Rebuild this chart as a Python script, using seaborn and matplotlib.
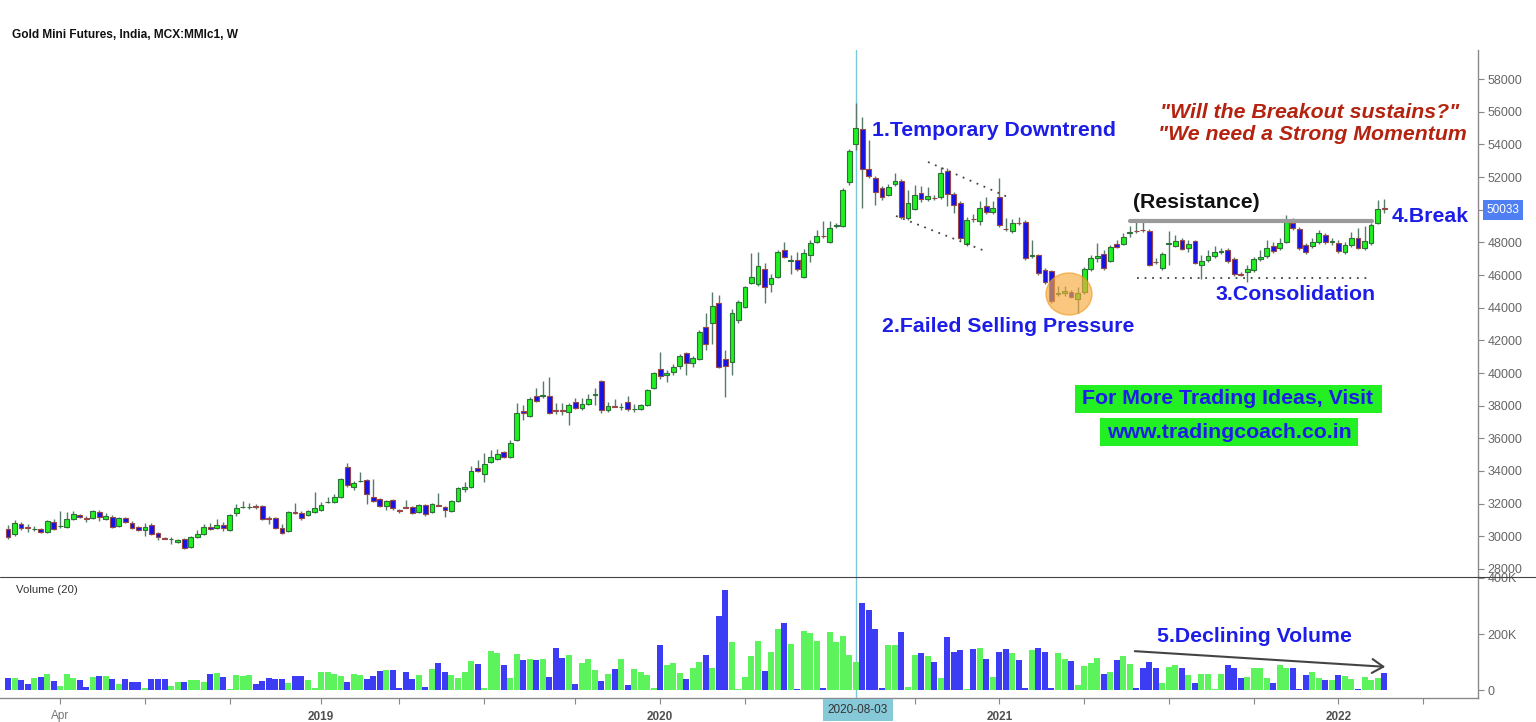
import numpy as np
import pandas as pd
import matplotlib
matplotlib.use("Agg")
import matplotlib.pyplot as plt
import matplotlib.transforms as mtransforms
from matplotlib.patches import Ellipse, Rectangle, FancyArrowPatch
from matplotlib.lines import Line2D
import seaborn as sns

# ---------------- data (weekly OHLC, MCX Gold Mini) ----------------
start_date = "2018-02-05"

opens = [30430, 30120, 30740, 30550, 30430, 30430, 30240, 30860, 30610, 30550,
         31040, 31290, 31100, 31100, 31470, 31040, 31160, 30610, 31100, 30800,
         30550, 30370, 30670, 30180, 29880, 29820, 29630, 29820, 29330, 29940,
         30120, 30550, 30490, 30670, 30370, 31410, 31780, 31780, 31840, 31840,
         31100, 31100, 30490, 30310, 31470, 31410, 31290, 31470, 31590, 32080,
         32080, 32390, 34230, 33000, 33370, 33430, 32390, 32270, 31840, 32200,
         31590, 31780, 31780, 31470, 31900, 31470, 31900, 31780, 31530, 32140,
         32880, 33000, 34170, 33800, 34530, 34720, 35150, 34840, 35880, 37660,
         37350, 38580, 38580, 38580, 37720, 37720, 37600, 38210, 37840, 38090,
         38640, 39500, 37720, 37960, 37900, 38210, 37780, 37780, 38030, 39070,
         40230, 39860, 40050, 40410, 41210, 40600, 40840, 42800, 43050, 44280,
         40840, 40660, 43230, 44030, 45500, 45440, 46360, 45440, 45870, 47520,
         46850, 46910, 45870, 47220, 48010, 48380, 48010, 48990, 48990, 51690,
         54020, 54940, 52490, 51930, 51320, 50890, 51570, 51750, 49480, 50030,
         51020, 50650, 50710, 50770, 52360, 50950, 50400, 47890, 49420, 49300,
         50220, 49850, 50770, 48810, 48690, 49180, 49240, 47150, 47220, 46300,
         46240, 44830, 44890, 44950, 44520, 44950, 46360, 47030, 47280, 46850,
         47890, 47890, 48560, 48690, 48750, 48690, 46790, 46420, 47890, 47770,
         48130, 47640, 48070, 46600, 46910, 47150, 47400, 47520, 46970, 46050,
         46170, 46300, 46970, 47150, 47770, 47640, 48010, 49180, 48810, 47830,
         47770, 48010, 48440, 48010, 47950, 47400, 47830, 48260, 47640, 47950,
         49180, 50060]

highs = [30670, 30980, 30860, 30740, 30610, 30490, 30980, 31040, 31530, 31470,
         31530, 31350, 31230, 31590, 31590, 31410, 31290, 31160, 31160, 30920,
         30610, 30800, 30800, 30240, 29940, 29940, 29820, 29880, 30000, 30370,
         30740, 30800, 31040, 30860, 31350, 31960, 32140, 32020, 31960, 31900,
         31230, 31160, 30740, 31530, 32020, 31530, 31590, 32700, 32080, 32390,
         32570, 33550, 34470, 33370, 33920, 33490, 33490, 32330, 32200, 32270,
         31650, 32200, 31840, 31960, 31960, 32020, 32630, 31840, 32200, 33000,
         33310, 34290, 34660, 35080, 35270, 35330, 35210, 35880, 38150, 38030,
         38520, 39070, 39500, 39740, 38150, 38150, 38150, 38450, 38450, 38700,
         39070, 39560, 38210, 38390, 38150, 38580, 38090, 38090, 39010, 40050,
         41270, 40170, 40540, 41150, 41270, 41030, 42620, 43660, 44950, 44770,
         41400, 43910, 44460, 45320, 47340, 47400, 46730, 46050, 47520, 48010,
         47220, 47400, 47580, 48140, 48750, 49300, 49300, 49180, 51320, 53710,
         56530, 55670, 54260, 52060, 51440, 51570, 52240, 51870, 51200, 51510,
         51440, 51380, 50890, 52610, 52550, 51080, 50530, 49540, 49730, 50530,
         50770, 50530, 51930, 49480, 49420, 49540, 49360, 48140, 47280, 46420,
         46300, 45320, 45320, 45070, 45260, 46480, 47220, 47950, 47520, 47830,
         48140, 48560, 48990, 49240, 49360, 48810, 47030, 47400, 48690, 48440,
         48260, 48130, 48130, 47220, 47520, 47770, 47640, 47640, 47090, 46170,
         46600, 47090, 47520, 48130, 48010, 48260, 49670, 49480, 48930, 47950,
         48260, 48750, 48560, 48260, 48130, 48010, 48620, 48870, 48990, 49180,
         50590, 50650]

lows = [29820, 30000, 30370, 30240, 30310, 30180, 30180, 30370, 30490, 30490,
        30980, 31100, 30860, 31040, 30920, 30980, 30490, 30550, 30800, 30430,
        30310, 30000, 30060, 29750, 29820, 29510, 29570, 29200, 29300, 29880,
        30060, 30370, 30430, 30310, 30310, 31230, 31720, 31650, 31650, 30980,
        30740, 30430, 30120, 30240, 31350, 30980, 31230, 31410, 31530, 32020,
        32020, 32330, 33000, 32820, 33310, 31960, 32080, 31780, 31590, 31590,
        31410, 31720, 31350, 31410, 31230, 31410, 31840, 31160, 31470, 32080,
        32700, 32940, 33920, 33310, 34470, 34660, 34780, 34780, 35820, 37110,
        37290, 38210, 38450, 37470, 37470, 37410, 36800, 37780, 37720, 38030,
        38030, 37540, 37600, 37900, 37720, 37660, 37600, 37720, 37960, 39010,
        39620, 39430, 39860, 40230, 39860, 40350, 40780, 41400, 41760, 40290,
        38520, 39860, 43050, 43970, 45440, 45320, 44280, 44950, 45810, 47030,
        46050, 46240, 45810, 46790, 47950, 48260, 47950, 48870, 48930, 51510,
        53650, 50100, 51930, 50280, 50590, 50830, 51440, 49420, 49360, 49970,
        50460, 50530, 50590, 50650, 50220, 49790, 48140, 47770, 49240, 49050,
        49730, 49730, 48930, 48690, 48560, 49050, 46910, 47030, 45990, 45440,
        44280, 44700, 44700, 44580, 43660, 44830, 46240, 46790, 46300, 46790,
        47640, 47830, 48320, 48560, 48620, 46540, 46660, 46300, 46600, 47710,
        47520, 47400, 46660, 45750, 46790, 47030, 47280, 46730, 45930, 45930,
        45560, 46170, 46850, 47030, 47340, 47520, 47950, 48750, 47520, 47280,
        47640, 47890, 47890, 47830, 47340, 47280, 47710, 47580, 47520, 47830,
        49120, 49790]

closes = [29940, 30800, 30490, 30520, 30440, 30240, 30920, 30430, 30640, 31040,
          31350, 31160, 31080, 31530, 31160, 31230, 30550, 31100, 30860, 30490,
          30370, 30550, 30120, 29940, 29860, 29840, 29750, 29260, 29940, 30120,
          30550, 30430, 30670, 30490, 31290, 31720, 31800, 31810, 31810, 31040,
          31070, 30490, 30180, 31470, 31440, 31100, 31530, 31720, 31900, 32110,
          32390, 33490, 33120, 33250, 33400, 32570, 32140, 31840, 32140, 31720,
          31570, 31760, 31410, 31900, 31350, 31960, 31880, 31590, 32140, 32940,
          33000, 33980, 33980, 34410, 34840, 35020, 34840, 35700, 37540, 37540,
          38390, 38270, 38600, 37540, 37700, 37700, 38030, 37840, 38090, 38390,
          38660, 37720, 37960, 37940, 37920, 37780, 37800, 38030, 38940, 39990,
          39800, 39990, 40350, 41030, 40600, 40900, 42500, 41760, 44090, 40350,
          40410, 43660, 44340, 45260, 45870, 46540, 45260, 45810, 47400, 47090,
          46870, 46360, 47340, 47950, 48380, 48360, 48870, 49010, 51200, 53590,
          55000, 52490, 52060, 51080, 50770, 51380, 51750, 49540, 50400, 50890,
          50650, 50830, 50690, 52240, 50950, 50280, 48260, 49360, 49400, 50100,
          49850, 50100, 49050, 48790, 49180, 49160, 47030, 47170, 46110, 45560,
          44400, 44850, 45010, 44640, 44890, 46360, 47030, 47150, 46420, 47710,
          47710, 48320, 48580, 48670, 48730, 46600, 46770, 47280, 47910, 48070,
          47580, 47890, 46730, 46850, 47150, 47400, 47420, 46850, 46050, 46030,
          46360, 46970, 47090, 47640, 47460, 47950, 49240, 48870, 47640, 47400,
          48010, 48560, 48010, 48030, 47460, 47830, 48260, 47640, 48070, 49050,
          50030, 50033]

volumes_k = [42, 42, 35, 23, 42, 47, 58, 32, 16, 58, 42, 35, 12, 47, 50, 50, 39, 23, 39, 30,
             30, 8, 39, 39, 39, 16, 30, 30, 35, 35, 28, 58, 62, 47, 4, 54, 49, 54, 23, 32,
             42, 39, 39, 27, 50, 50, 35, 9, 66, 66, 58, 50, 30, 58, 54, 39, 50, 69, 73, 73,
             7, 66, 39, 54, 12, 77, 96, 66, 54, 42, 66, 103, 92, 7, 138, 133, 89, 42, 130, 108,
             111, 108, 111, 47, 150, 115, 126, 23, 96, 111, 73, 32, 58, 77, 111, 20, 77, 66, 54, 7,
             161, 89, 96, 62, 39, 78, 99, 124, 78, 263, 357, 173, 4, 47, 120, 177, 70, 136, 219, 240,
             166, 4, 212, 204, 177, 7, 208, 173, 192, 127, 100, 312, 284, 219, 7, 162, 162, 208, 12, 127,
             131, 120, 100, 42, 189, 136, 143, 4, 146, 151, 112, 47, 136, 146, 131, 109, 7, 143, 151, 136,
             7, 131, 112, 105, 17, 85, 97, 116, 59, 63, 109, 120, 93, 7, 78, 100, 78, 24, 81, 89,
             78, 54, 27, 59, 59, 4, 59, 89, 78, 42, 47, 78, 78, 42, 24, 89, 78, 78, 4, 54,
             63, 42, 35, 35, 54, 51, 39, 4, 47, 36, 45, 62]

price_ticks = list(range(28000, 58001, 2000))
hidden_price_label = 50000          # covered by the last-price tag
volume_ticks = [0, 200000, 400000]
volume_tick_labels = ["0", "200K", "400K"]
last_price_label = "50033"

time_tick_dates = ["2018-04-02", "2019-01-07", "2020-01-06", "2021-01-04", "2022-01-03"]
time_tick_labels = ["Apr", "2019", "2020", "2021", "2022"]
highlight_date = "2020-08-03"
quarter_dates = ["2018-07-02", "2018-10-01", "2019-04-01", "2019-07-01", "2019-10-07",
                 "2020-04-06", "2020-10-05", "2021-04-05", "2021-07-05", "2021-10-04",
                 "2022-04-04"]

# ---------------- frame ----------------
n = len(closes)
dates = pd.date_range(start_date, periods=n, freq="7D")
df = pd.DataFrame({"date": dates, "open": opens, "high": highs, "low": lows,
                   "close": closes, "volume": np.array(volumes_k) * 1000})
df["i"] = np.arange(n)
df["dir"] = np.where(df["close"] >= df["open"], "up", "down")


def idx_of(d):
    d = pd.Timestamp(d)
    return float((d - dates[0]).days) / 7.0


sns.set_theme(style="white")
plt.rcParams["font.family"] = ["Liberation Sans", "DejaVu Sans"]

W, H = 1536, 722
fig = plt.figure(figsize=(W / 100, H / 100), dpi=100)
fig.patch.set_facecolor("white")
pix = mtransforms.Affine2D().scale(1.0 / W, -1.0 / H).translate(0, 1) + fig.transFigure


def fbox(x0, y0, x1, y1):
    return [x0 / W, 1 - y1 / H, (x1 - x0) / W, (y1 - y0) / H]


axp = fig.add_axes(fbox(0, 50, 1478, 576))
axv = fig.add_axes(fbox(0, 576, 1478, 698))

XLIM = (-1.23, 225.4)

# ---------------- candles ----------------
UP_BODY, DOWN_BODY = "#1ff01f", "#1414e6"
UP_EDGE, DOWN_EDGE = "#2f6f3a", "#9a4646"
WICK = "#587a68"

hl_i = idx_of(highlight_date)
axp.axvline(hl_i, color="#79c9dc", lw=1.0, zorder=0.5)
axv.axvline(hl_i, color="#79c9dc", lw=1.0, zorder=0.5)

axp.vlines(df["i"], df["low"], df["high"], color=WICK, lw=1.0, zorder=1)
body_bottom = np.minimum(df["open"], df["close"])
body_h = np.maximum(np.abs(df["close"] - df["open"]), 45)
up = df["dir"] == "up"
axp.bar(df["i"][up], body_h[up], bottom=body_bottom[up], width=0.74,
        color=UP_BODY, edgecolor=UP_EDGE, linewidth=0.8, zorder=2)
axp.bar(df["i"][~up], body_h[~up], bottom=body_bottom[~up], width=0.74,
        color=DOWN_BODY, edgecolor=DOWN_EDGE, linewidth=0.8, zorder=2)

axp.set_xlim(*XLIM)
axp.set_ylim(27571, 59777)
axp.yaxis.tick_right()
axp.set_yticks(price_ticks)
axp.set_yticklabels(["" if t == hidden_price_label else str(t) for t in price_ticks])
axp.tick_params(axis="y", direction="out", length=4, width=0.8, color="#888888",
                labelsize=9, labelcolor="#666666", pad=3, right=True, left=False)
axp.set_xticks([])
for s in ["top", "left", "bottom"]:
    axp.spines[s].set_visible(False)
axp.spines["right"].set_color("#8a8a8a")
axp.spines["right"].set_linewidth(1.0)

# ---------------- volume (seaborn) ----------------
sns.barplot(data=df, x="i", y="volume", hue="dir",
            palette={"up": "#5cf35c", "down": "#3c3cf4"},
            native_scale=True, dodge=False, width=0.92, saturation=1,
            legend=False, errorbar=None, linewidth=0, ax=axv)
axv.set_xlim(*XLIM)
axv.set_ylim(-28000, 407000)
axv.set_xlabel("")
axv.set_ylabel("")
axv.yaxis.tick_right()
axv.set_yticks(volume_ticks)
axv.set_yticklabels(volume_tick_labels)
axv.tick_params(axis="y", direction="out", length=4, width=0.8, color="#888888",
                labelsize=9, labelcolor="#666666", pad=3, right=True, left=False)
for s in ["top", "left"]:
    axv.spines[s].set_visible(False)
for s in ["right", "bottom"]:
    axv.spines[s].set_color("#8a8a8a")
    axv.spines[s].set_linewidth(1.0)

tick_pos = [idx_of(d) for d in time_tick_dates]
axv.set_xticks(tick_pos)
axv.set_xticklabels(time_tick_labels)
axv.set_xticks([idx_of(d) for d in quarter_dates] + [hl_i], minor=True)
axv.tick_params(axis="x", which="both", direction="out", length=4, width=0.8,
                color="#888888", labelsize=8.5, labelcolor="#555555", pad=5, bottom=True)
for lab in axv.get_xticklabels():
    if lab.get_text() == "Apr":
        lab.set_color("#777777")
    else:
        lab.set_fontweight("bold")
        lab.set_color("#505050")

# highlighted date label
fig.text(858, 710, highlight_date, transform=pix, ha="center", va="center",
         fontsize=8.5, color="#333333",
         bbox=dict(boxstyle="square,pad=0.45", facecolor="#86c9d9", edgecolor="none"))

# separator line between panes
fig.add_artist(Line2D([0, 1536], [576.5, 576.5], transform=pix, color="#444444", lw=0.8))

# last price tag
fig.text(1503, 210, last_price_label, transform=pix, ha="center", va="center",
         fontsize=8.5, color="white",
         bbox=dict(boxstyle="square,pad=0.3", facecolor="#4f7ff2", edgecolor="none"))

# ---------------- texts ----------------
fig.text(12, 35, "Gold Mini Futures, India, MCX:MMIc1, W", transform=pix,
         ha="left", va="center", fontsize=8.6, fontweight="bold", color="#111111")
fig.text(16, 590, "Volume (20)", transform=pix, ha="left", va="center",
         fontsize=8.2, color="#333333")

BLUE = "#1d1de8"
RED = "#b4230f"
fs = 15.3
fig.text(872, 130, "1.Temporary Downtrend", transform=pix, ha="left", va="center",
         fontsize=fs, fontweight="bold", color=BLUE)
fig.text(882, 327, "2.Failed Selling Pressure", transform=pix, ha="left", va="center",
         fontsize=fs, fontweight="bold", color=BLUE)
fig.text(1215, 295, "3.Consolidation", transform=pix, ha="left", va="center",
         fontsize=fs, fontweight="bold", color=BLUE)
fig.text(1392, 217, "4.Break", transform=pix, ha="left", va="center",
         fontsize=fs, fontweight="bold", color=BLUE)
fig.text(1157, 637, "5.Declining Volume", transform=pix, ha="left", va="center",
         fontsize=fs, fontweight="bold", color=BLUE)
fig.text(1133, 203, "(Resistance)", transform=pix, ha="left", va="center",
         fontsize=fs, color="#111111", fontweight="bold")
fig.text(1160, 112, "\"Will the Breakout sustains?\"", transform=pix, ha="left", va="center",
         fontsize=fs, fontweight="bold", style="italic", color=RED)
fig.text(1158, 134, "\"We need a Strong Momentum", transform=pix, ha="left", va="center",
         fontsize=fs, fontweight="bold", style="italic", color=RED)

# promo boxes
fig.add_artist(Rectangle((1075, 385), 307, 28, transform=pix, facecolor="#22f022",
                         edgecolor="none", zorder=3))
fig.text(1228, 399, "For More Trading Ideas, Visit", transform=pix, ha="center",
         va="center", fontsize=fs, fontweight="bold", color=BLUE, zorder=4)
fig.add_artist(Rectangle((1100, 418), 258, 28, transform=pix, facecolor="#22f022",
                         edgecolor="none", zorder=3))
fig.text(1229, 432, "www.tradingcoach.co.in", transform=pix, ha="center",
         va="center", fontsize=fs, fontweight="bold", color=BLUE, zorder=4)

# trend channel (dotted)
dot = dict(transform=pix, color="#444444", lw=1.3, linestyle=(0, (1, 3.2)))
fig.add_artist(Line2D([928, 1010], [162, 198], **dot))
fig.add_artist(Line2D([896, 985], [216, 251], **dot))
fig.add_artist(Line2D([1137, 1368], [278, 278], **dot))

# resistance line
fig.add_artist(Line2D([1130, 1372], [221, 221], transform=pix, color="#9a9a9a", lw=3))

# orange circle
fig.add_artist(Ellipse((1069, 294), 46, 42, transform=pix, facecolor="#f6a93b",
                       edgecolor="#f39a1e", alpha=0.65, lw=1))

# declining volume arrow
fig.add_artist(FancyArrowPatch((1132, 651), (1388, 667), transform=pix,
                               arrowstyle="->,head_length=8,head_width=5",
                               color="#444444", lw=1.5, mutation_scale=1))

fig.savefig("out.png", dpi=100, facecolor="white")
